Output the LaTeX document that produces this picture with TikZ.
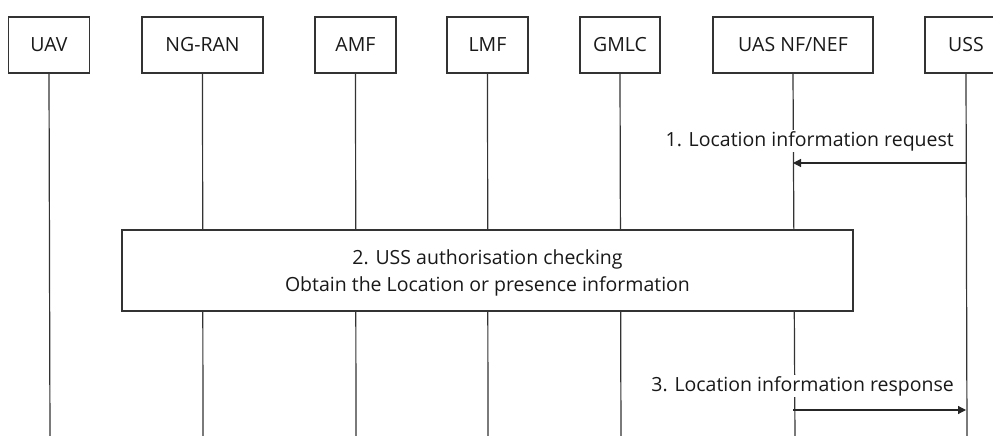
\documentclass[tikz,border=0pt]{standalone}
\usepackage{fontspec}
\setmainfont{Open Sans}
\usetikzlibrary{arrows.meta}
\begin{document}
\begin{tikzpicture}[x=1pt,y=-1pt,
  every node/.style={font=\fontsize{19.5}{24}\selectfont, text=black!90},
  entity/.style={draw=black!80, line width=1.4pt, minimum height=56pt, inner sep=0pt, fill=white},
  lifeline/.style={draw=black!80, line width=1.2pt},
  msg/.style={draw=black!85, line width=1.2pt, -{Triangle[length=8pt,width=8pt]}},
  msglabel/.style={anchor=east, fill=white, inner sep=1pt},
  stepbox/.style={draw=black!80, line width=1.4pt, fill=white, inner sep=0pt}]
\useasboundingbox (0,0) rectangle (993,436);
\clip (0,0) rectangle (993,436);
% lifeline bottoms
\foreach \n/\x in {uav/50,ngran/203,amf/356,lmf/488,gmlc/621,nef/795,uss/967}
  \coordinate (\n-end) at (\x,440);
% entity boxes
\node[entity, minimum width=81pt] (uav) at (49,45) {UAV};
\node[entity, minimum width=121pt] (ngran) at (202.5,45) {NG-RAN};
\node[entity, minimum width=81pt] (amf) at (355.5,45) {AMF};
\node[entity, minimum width=81pt] (lmf) at (487.5,45) {LMF};
\node[entity, minimum width=80pt] (gmlc) at (620,45) {GMLC};
\node[entity, minimum width=160pt] (nef) at (793,45) {UAS NF/NEF};
\node[entity, minimum width=82pt] (uss) at (966,45) {USS};
% lifelines
\foreach \n in {uav,ngran,amf,lmf,gmlc,nef,uss}
  \draw[lifeline] (\n.south) -- (\n-end);
% message points on the lifelines
\coordinate (m1s) at (uss.south |- 0,163);
\coordinate (m1e) at (nef.south |- 0,163);
\coordinate (m3s) at (nef.south |- 0,410);
\coordinate (m3e) at (uss.south |- 0,410);
% step 1
\draw[msg] (m1s) -- (m1e);
\node[msglabel] (l1) at (955,141) {1. Location information request};
% step 2
\node[stepbox, minimum width=731pt, minimum height=81pt, align=center, text depth=0pt] (s2) at (487.5,270.5)
  {\raisebox{-2pt}{2. USS authorisation checking}\\[5pt]Obtain the Location or presence information};
% step 3
\draw[msg] (m3s) -- (m3e);
\node[msglabel] (l3) at (955,386) {3. Location information response};
\end{tikzpicture}
\end{document}
